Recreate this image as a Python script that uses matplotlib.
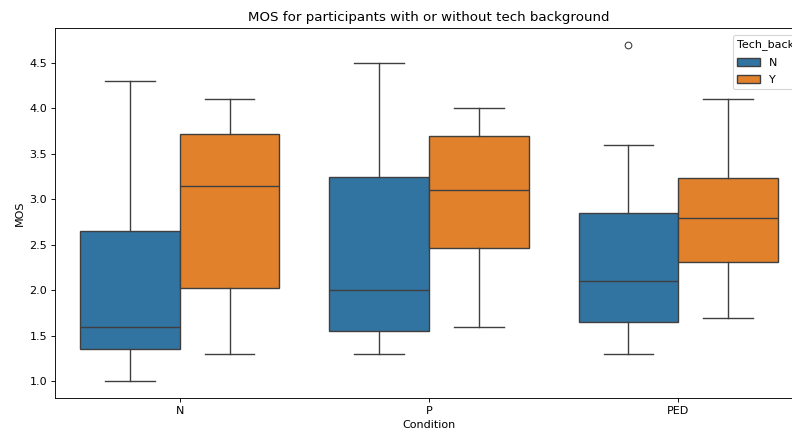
import matplotlib
matplotlib.use("Agg")
import matplotlib.pyplot as plt
from matplotlib.patches import Patch

# Box statistics per condition, one entry per tech-background group
conditions = ["N", "P", "PED"]
groups = ["N", "Y"]

whislo = {"N": [1.0, 1.3, 1.3], "Y": [1.3, 1.6, 1.7]}
q1 = {"N": [1.35, 1.55, 1.65], "Y": [2.02, 2.47, 2.31]}
med = {"N": [1.6, 2.0, 2.1], "Y": [3.15, 3.1, 2.8]}
q3 = {"N": [2.65, 3.25, 2.85], "Y": [3.72, 3.7, 3.23]}
whishi = {"N": [4.3, 4.5, 3.6], "Y": [4.1, 4.0, 4.1]}
fliers = {"N": [[], [], [4.7]], "Y": [[], [], []]}

colors = {"N": "#3274a1", "Y": "#e1812c"}
line_color = "#3f3f3f"
lw = 1.25

DPI = 80
W, H = 792, 432
fig = plt.figure(figsize=(W / DPI, H / DPI), dpi=DPI)
ax = fig.add_axes([55 / W, 34 / H, (803 - 55) / W, (398 - 28) / H])

box_width = 0.4
for j, g in enumerate(groups):
    stats = []
    for i, c in enumerate(conditions):
        stats.append(dict(
            whislo=whislo[g][i], q1=q1[g][i], med=med[g][i],
            q3=q3[g][i], whishi=whishi[g][i], fliers=fliers[g][i],
            label=c,
        ))
    positions = [i + (j - 0.5) * box_width for i in range(len(conditions))]
    ax.bxp(
        stats, positions=positions, widths=box_width,
        capwidths=box_width / 2, patch_artist=True, manage_ticks=False,
        boxprops=dict(facecolor=colors[g], edgecolor=line_color, linewidth=lw),
        medianprops=dict(color=line_color, linewidth=lw),
        whiskerprops=dict(color=line_color, linewidth=lw),
        capprops=dict(color=line_color, linewidth=lw),
        flierprops=dict(marker="o", markerfacecolor="none",
                        markeredgecolor=line_color, markersize=6,
                        linewidth=lw),
    )

ax.set_xlim(-0.5, len(conditions) - 0.5)
ax.set_ylim(0.815, 4.885)
ax.set_xticks(range(len(conditions)))
ax.set_xticklabels(conditions)
ax.set_yticks([1.0, 1.5, 2.0, 2.5, 3.0, 3.5, 4.0, 4.5])
ax.set_xlabel("Condition")
ax.set_ylabel("MOS")
ax.set_title("MOS for participants with or without tech background")

handles = [Patch(facecolor=colors[g], edgecolor=line_color, linewidth=lw)
           for g in groups]
fig.legend(handles, groups, title="Tech_background", loc="upper left",
           bbox_to_anchor=(733 / W, 1 - 35 / H), borderaxespad=0,
           alignment="left", labelspacing=0.65)

fig.savefig("out.png", dpi=DPI)
